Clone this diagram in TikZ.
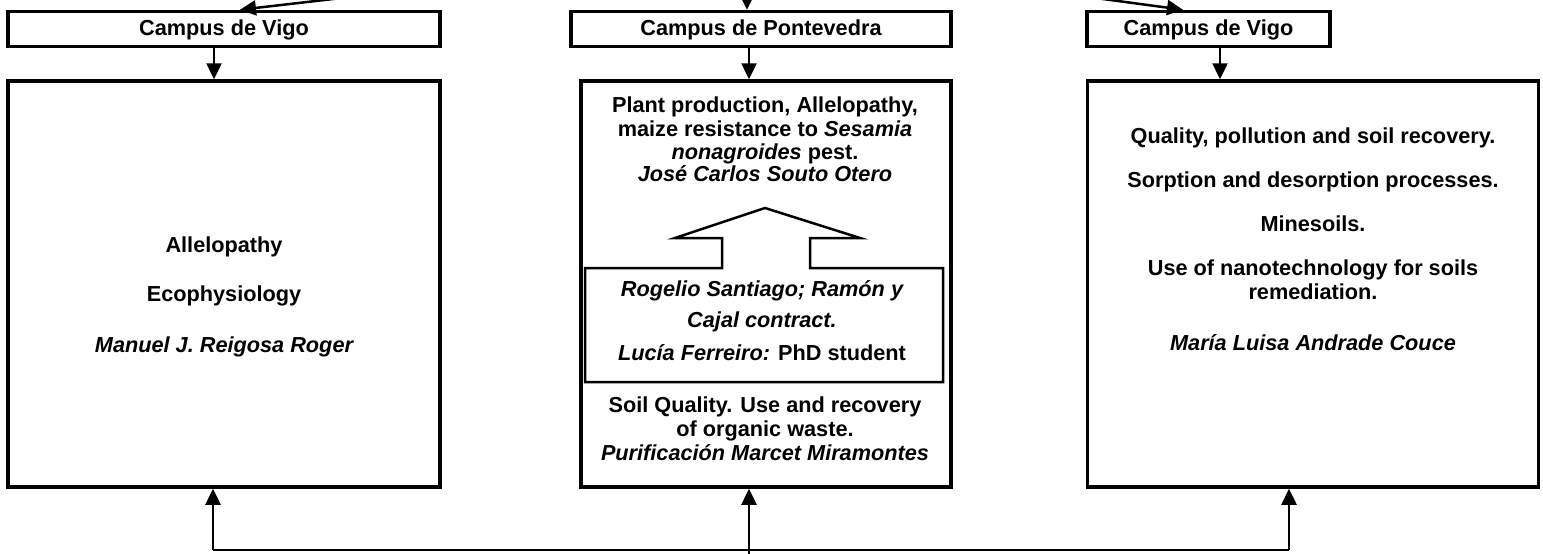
\documentclass[tikz,border=0pt]{standalone}
\usepackage{fontspec}
\setmainfont{Liberation Sans}
\usetikzlibrary{arrows.meta}
\begin{document}
\begin{tikzpicture}[x=1pt,y=-1pt,
  boxstyle/.style={draw, line width=3.5pt, inner sep=0pt, rectangle},
  conn/.style={line width=2.5pt, -{Triangle[width=15pt,length=16pt]}},
  txt/.style={font=\fontsize{21.7}{24}\selectfont\bfseries, text height=15.5pt, text depth=0pt, inner sep=0pt, anchor=center},
  itx/.style={txt, font=\fontsize{21.7}{24}\selectfont\bfseries\itshape}]
\useasboundingbox (0,0) rectangle (1543,554);
\clip (0,0) rectangle (1543,554);
% campus boxes
\node[boxstyle, minimum width=432pt, minimum height=35pt] (lc) at (224,29) {};
\node[boxstyle, minimum width=380pt, minimum height=35pt] (mc) at (761,29) {};
\node[boxstyle, minimum width=243pt, minimum height=35pt] (rc) at (1208.5,29) {};
\node[txt] (lct) at (224,28) {Campus de Vigo};
\node[txt] (mct) at (761,28) {Campus de Pontevedra};
\node[txt] (rct) at (1208.5,28) {Campus de Vigo};
% big boxes
\node[boxstyle, minimum width=432pt, minimum height=406pt] (lb) at (224,284) {};
\node[boxstyle, minimum width=370pt, minimum height=406pt] (mb) at (766,284) {};
\node[boxstyle, minimum width=451pt, minimum height=406pt] (rb) at (1313,284) {};
% top incoming arrows
\coordinate (tl) at (411,-10);
\coordinate (tm) at (747,-10);
\coordinate (tr) at (1036,-10);
\draw[conn] (tl) -- ([xshift=16pt]lc.north);
\draw[conn] (tm) -- ([xshift=-14pt]mc.north);
\draw[conn] (tr) -- ([xshift=-25.5pt]rc.north);
% campus -> boxes
\draw[conn] ([xshift=-10pt]lc.south) -- ([xshift=-10pt]lc.south |- lb.north);
\draw[conn] ([xshift=-12pt]mc.south) -- ([xshift=-12pt]mc.south |- mb.north);
\draw[conn] ([xshift=11.5pt]rc.south) -- ([xshift=11.5pt]rc.south |- rb.north);
% left texts
\node[txt] (l1) at (224,245) {Allelopathy};
\node[txt] (l2) at (224,294) {Ecophysiology};
\node[itx] (l3) at (224,345) {Manuel J. Reigosa Roger};
% middle texts
\node[txt] (m1) at (765,105) {Plant production, Allelopathy,};
\node[txt] (m2) at (765,129) {maize resistance to \textit{Sesamia}};
\node[txt] (m3) at (765,152) {\textit{nonagroides} pest.};
\node[itx] (m4) at (765,174) {José Carlos Souto Otero};
% callout arrow box
\draw[line width=2.5pt, line join=miter]
  (585,382) -- (585,268) -- (722,268) -- (722,238) -- (675,238) -- (765,208)
  -- (860,238) -- (810,238) -- (810,268) -- (943,268) -- (943,382) -- cycle;
\node[itx] (i1) at (762,289) {Rogelio Santiago; Ramón y};
\node[itx] (i2) at (762,320) {Cajal contract.};
\begin{scope}
\clip (586,335) rectangle (942,361);
\node[txt] (i3) at (762,353) {\textit{Lucía Ferreiro:} PhD student};
\end{scope}
\node[txt] (m5) at (765,405) {Soil Quality. Use and recovery};
\node[txt] (m6) at (765,429) {of organic waste.};
\node[itx] (m7) at (765,453) {Purificación Marcet Miramontes};
% right texts
\node[txt] (r1) at (1313,136) {Quality, pollution and soil recovery.};
\node[txt] (r2) at (1313,180) {Sorption and desorption processes.};
\node[txt] (r3) at (1313,224) {Minesoils.};
\node[txt] (r4) at (1313,268) {Use of nanotechnology for soils};
\node[txt] (r5) at (1313,292) {remediation.};
\node[itx] (r6) at (1313,343) {María Luisa Andrade Couce};
% bottom feedback
\coordinate (bl) at (213,550);
\coordinate (br) at (1289,550);
\coordinate (bm) at (749,556);
\draw[line width=2.5pt] (bl) -- (br);
\draw[conn] (bl) -- (bl |- lb.south);
\draw[conn] (bm) -- (bm |- mb.south);
\draw[conn] (br) -- (br |- rb.south);
\end{tikzpicture}
\end{document}
